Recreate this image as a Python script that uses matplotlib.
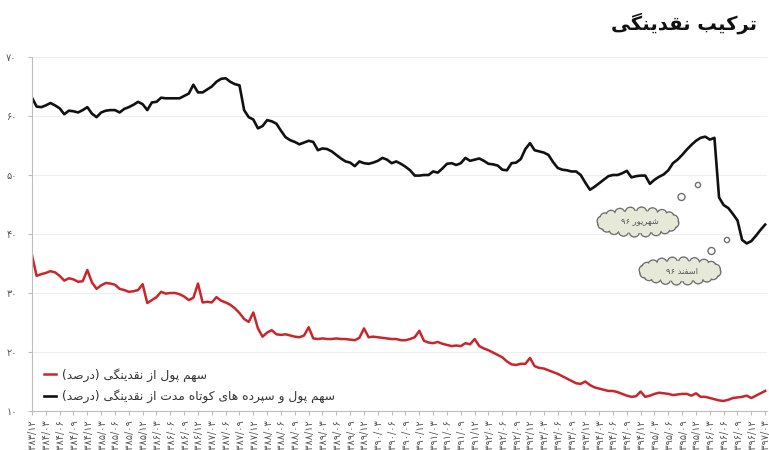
import numpy as np
import matplotlib
matplotlib.use("Agg")
import matplotlib.pyplot as plt
from matplotlib.patches import Circle, Ellipse

plt.rcParams['font.family'] = ['DejaVu Sans']

# monthly data, 1383/12 .. 1397/03
black_vals = [63.1, 61.6, 61.5, 61.8, 62.2, 61.8, 61.3, 60.3, 60.9, 60.8,
              60.6, 61.0, 61.5, 60.4, 59.8, 60.6, 60.9, 61.0, 61.0, 60.6,
              61.2, 61.5, 61.9, 62.4, 62.0, 61.0, 62.3, 62.4, 63.1, 63.0,
              63.0, 63.0, 63.0, 63.4, 63.8, 65.3, 64.0, 64.0, 64.5, 65.0,
              65.8, 66.3, 66.4, 65.8, 65.4, 65.2, 61.0, 59.8, 59.4, 57.9,
              58.3, 59.3, 59.1, 58.7, 57.5, 56.4, 55.9, 55.6, 55.2, 55.5,
              55.8, 55.6, 54.2, 54.5, 54.4, 54.0, 53.4, 52.8, 52.3, 52.1,
              51.5, 52.3, 52.0, 51.9, 52.1, 52.4, 52.9, 52.6, 52.0, 52.3,
              51.9, 51.4, 50.8, 49.9, 49.9, 50.0, 50.0, 50.6, 50.4, 51.1,
              51.9, 52.0, 51.7, 52.0, 52.9, 52.4, 52.6, 52.8, 52.4, 51.9,
              51.8, 51.6, 50.9, 50.8, 52.0, 52.1, 52.7, 54.4, 55.4, 54.2,
              54.0, 53.8, 53.4, 52.2, 51.2, 50.9, 50.8, 50.6, 50.6, 50.0,
              48.7, 47.5, 48.0, 48.6, 49.2, 49.8, 50.0, 50.0, 50.3, 50.7,
              49.6, 49.8, 49.9, 49.9, 48.5, 49.2, 49.7, 50.1, 50.8, 52.0,
              52.6, 53.4, 54.3, 55.1, 55.8, 56.3, 56.5, 56.0, 56.3, 46.2,
              44.9, 44.4, 43.4, 42.3, 39.0, 38.4, 38.8, 39.7, 40.7, 41.6]

red_vals = [36.4, 32.9, 33.2, 33.4, 33.7, 33.5, 32.9, 32.1, 32.5, 32.3,
            31.9, 32.0, 33.9, 31.8, 30.7, 31.3, 31.7, 31.6, 31.4, 30.7,
            30.5, 30.2, 30.3, 30.5, 31.5, 28.3, 28.8, 29.3, 30.2, 29.9,
            30.0, 30.0, 29.8, 29.4, 28.8, 29.2, 31.6, 28.4, 28.5, 28.4,
            29.3, 28.7, 28.4, 28.0, 27.4, 26.6, 25.6, 25.1, 26.7, 24.0,
            22.6, 23.3, 23.7, 23.0, 22.9, 23.0, 22.8, 22.6, 22.5, 22.8,
            24.2, 22.3, 22.2, 22.3, 22.2, 22.2, 22.3, 22.2, 22.2, 22.1,
            22.0, 22.4, 24.0, 22.5, 22.6, 22.5, 22.4, 22.3, 22.2, 22.2,
            22.0, 22.0, 22.2, 22.5, 23.6, 21.9, 21.6, 21.5, 21.7, 21.4,
            21.2, 21.0, 21.1, 21.0, 21.5, 21.3, 22.2, 21.0, 20.6, 20.3,
            19.9, 19.5, 19.1, 18.4, 17.9, 17.8, 18.0, 18.0, 19.0, 17.6,
            17.3, 17.2, 16.9, 16.6, 16.3, 15.9, 15.5, 15.1, 14.7, 14.6,
            15.0, 14.4, 14.0, 13.8, 13.6, 13.4, 13.4, 13.2, 12.9, 12.6,
            12.4, 12.5, 13.3, 12.4, 12.6, 12.9, 13.1, 13.0, 12.9, 12.7,
            12.8, 12.9, 12.9, 12.6, 13.0, 12.4, 12.4, 12.2, 12.0, 11.8,
            11.7, 11.9, 12.2, 12.3, 12.4, 12.6, 12.2, 12.6, 13.0, 13.4]

years = list(range(1384, 1397 + 1))
quarter_months = ['03', '06', '09', '12']
yticks = [10, 20, 30, 40, 50, 60, 70]

title_txt = 'ترکیب نقدینگی'
red_label = 'سهم پول از نقدینگی (درصد)'
black_label = 'سهم پول و سپرده های کوتاه مدت از نقدینگی (درصد)'
cloud1_txt = 'شهریور ۹۶'
cloud2_txt = 'اسفند ۹۶'

# ---- minimal persian shaping (matplotlib has no bidi / joining)
FORMS = {
    'ا': ('\uFE8D', '\uFE8E', None, None),
    'ب': ('\uFE8F', '\uFE90', '\uFE91', '\uFE92'),
    'ت': ('\uFE95', '\uFE96', '\uFE97', '\uFE98'),
    'د': ('\uFEA9', '\uFEAA', None, None),
    'ر': ('\uFEAD', '\uFEAE', None, None),
    'ز': ('\uFEAF', '\uFEB0', None, None),
    'س': ('\uFEB1', '\uFEB2', '\uFEB3', '\uFEB4'),
    'ش': ('\uFEB5', '\uFEB6', '\uFEB7', '\uFEB8'),
    'ص': ('\uFEB9', '\uFEBA', '\uFEBB', '\uFEBC'),
    'ف': ('\uFED1', '\uFED2', '\uFED3', '\uFED4'),
    'ق': ('\uFED5', '\uFED6', '\uFED7', '\uFED8'),
    'ل': ('\uFEDD', '\uFEDE', '\uFEDF', '\uFEE0'),
    'م': ('\uFEE1', '\uFEE2', '\uFEE3', '\uFEE4'),
    'ن': ('\uFEE5', '\uFEE6', '\uFEE7', '\uFEE8'),
    'ه': ('\uFEE9', '\uFEEA', '\uFEEB', '\uFEEC'),
    'و': ('\uFEED', '\uFEEE', None, None),
    'پ': ('\uFB56', '\uFB57', '\uFB58', '\uFB59'),
    'ک': ('\uFB8E', '\uFB8F', '\uFB90', '\uFB91'),
    'گ': ('\uFB92', '\uFB93', '\uFB94', '\uFB95'),
    'ی': ('\uFBFC', '\uFBFD', '\uFBFE', '\uFBFF'),
}


def shape(word):
    out = []
    n = len(word)
    for k, ch in enumerate(word):
        f = FORMS.get(ch)
        if f is None:
            out.append(ch)
            continue
        prev_j = k > 0 and word[k - 1] in FORMS and FORMS[word[k - 1]][2] is not None
        next_j = k < n - 1 and word[k + 1] in FORMS and f[2] is not None
        if prev_j and next_j:
            out.append(f[3])
        elif prev_j:
            out.append(f[1])
        elif next_j:
            out.append(f[2])
        else:
            out.append(f[0])
    return ''.join(reversed(out))


def rtl(text):
    vis = []
    for w in text.split(' '):
        if w.startswith('(') and w.endswith(')'):
            vis.append('(' + shape(w[1:-1]) + ')')
        elif w[0] in '۰۱۲۳۴۵۶۷۸۹':
            vis.append(w)
        else:
            vis.append(shape(w))
    return ' '.join(reversed(vis))


fa = str.maketrans('0123456789', '۰۱۲۳۴۵۶۷۸۹')

xlabels = ['1383/12'] + [f'{y}/{m}' for y in years for m in quarter_months]
xlabels = [s.translate(fa) for s in xlabels][:54]

x = np.arange(len(black_vals))

fig = plt.figure(figsize=(7.69, 4.5), dpi=100)
ax = fig.add_axes([32 / 769, 1 - 411 / 450, 735 / 769, (411 - 57) / 450])

ax.plot(x, red_vals, color='#c9262c', lw=1.8, solid_joinstyle='round', label=rtl(red_label))
ax.plot(x, black_vals, color='#111111', lw=1.9, solid_joinstyle='round', label=rtl(black_label))

ax.set_xlim(0, 159.4)
ax.set_ylim(10, 70)
ax.set_yticks(yticks)
ax.set_yticklabels([str(v).translate(fa) for v in yticks])
ax.set_xticks(np.arange(0, 160, 3))
ax.set_xticklabels(xlabels, rotation=90, va='top', ha='center')

ax.yaxis.grid(True, color='#efefef', lw=0.8)
ax.set_axisbelow(True)
for s in ['top', 'right']:
    ax.spines[s].set_visible(False)
ax.spines['left'].set_color('#bdbdbd')
ax.spines['bottom'].set_color('#bdbdbd')
ax.tick_params(axis='y', length=3, color='#bdbdbd', labelsize=7, labelcolor='#555555', pad=8)
ax.tick_params(axis='x', length=3, color='#bdbdbd', labelsize=7, labelcolor='#555555', pad=2)

leg = ax.legend(loc='lower left', bbox_to_anchor=(38 / 769, 1 - 409 / 450),
                bbox_transform=fig.transFigure, frameon=False, fontsize=8.8,
                handlelength=1.0, handletextpad=0.5, labelspacing=0.6, borderpad=0)
for t in leg.get_texts():
    t.set_color('#333333')

fig.text(757 / 769, 1 - 23 / 450, rtl(title_txt), ha='right', va='center',
         fontsize=14, fontweight='bold', color='#111111')

# overlay in pixel coords for the callout clouds
ov = fig.add_axes([0, 0, 1, 1])
ov.set_xlim(0, 769)
ov.set_ylim(450, 0)
ov.axis('off')
ov.patch.set_visible(False)

cloud_fill = '#e7e9d8'
cloud_edge = '#6f6f6f'


def cloud(cx, cy, w, h, label):
    r = 5.0
    a, b = w / 2 - r, h / 2 - r
    angs = np.linspace(0, 2 * np.pi, 20, endpoint=False) + 0.1
    for t in angs:
        ov.add_patch(Circle((cx + a * np.cos(t), cy + b * np.sin(t)), r,
                            fc=cloud_fill, ec=cloud_edge, lw=1.0, zorder=3))
    for t in angs:
        ov.add_patch(Circle((cx + a * np.cos(t), cy + b * np.sin(t)), r - 0.9,
                            fc=cloud_fill, ec='none', zorder=4))
    ov.add_patch(Ellipse((cx, cy), 2 * a + 2, 2 * b + 2, fc=cloud_fill, ec='none', zorder=4))
    ov.text(cx + 2, cy, rtl(label), ha='center', va='center', fontsize=6,
            color='#555555', zorder=5)


cloud(638, 222, 82, 30, cloud1_txt)
cloud(680, 271, 82, 28, cloud2_txt)

for (bx, by, br) in [(681.5, 197, 3.5), (698, 185, 2.6), (711.5, 251, 3.5), (727, 240, 2.6)]:
    ov.add_patch(Circle((bx, by), br, fc='white', ec=cloud_edge, lw=1.0, zorder=5))

fig.savefig('out.png', dpi=100)
